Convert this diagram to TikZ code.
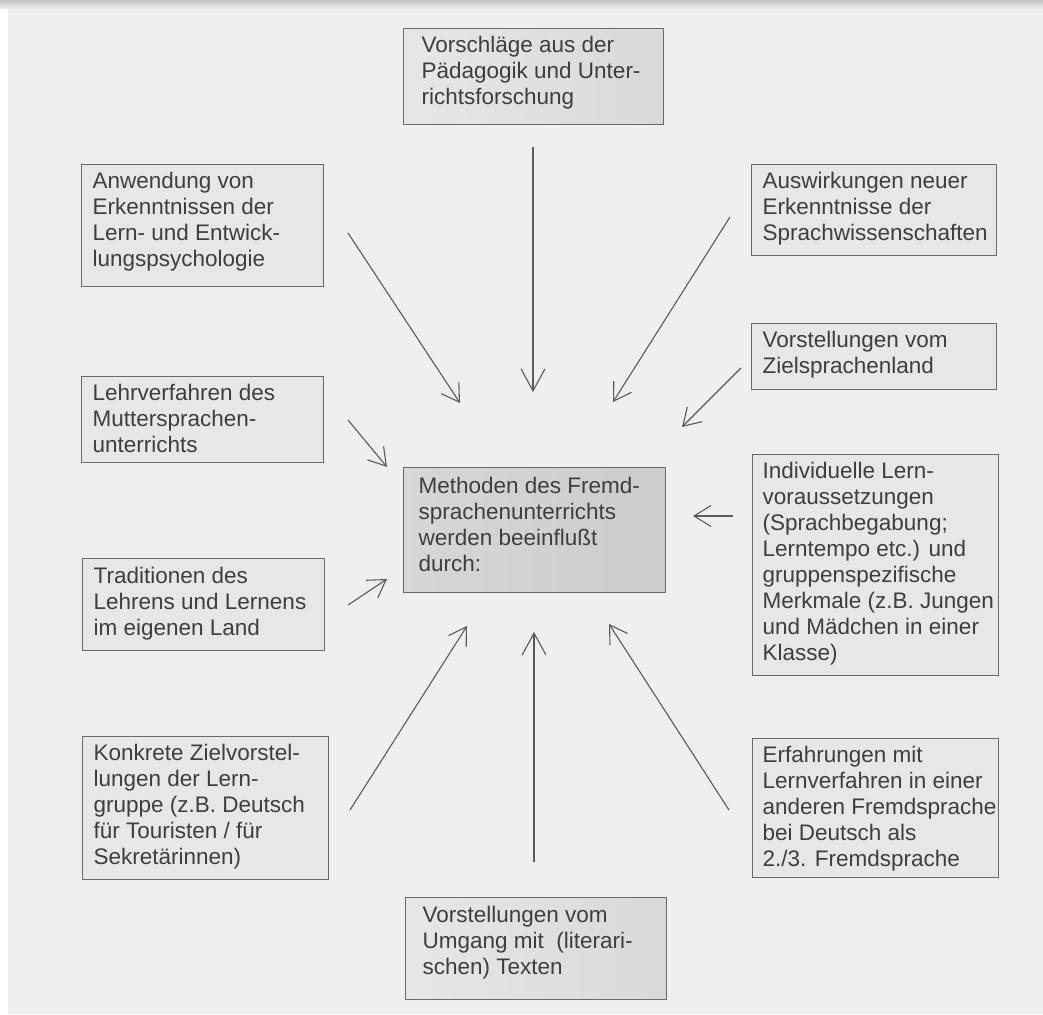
\documentclass[tikz,border=0pt]{standalone}
\usepackage{fontspec}
\setmainfont{Liberation Sans}
\usetikzlibrary{arrows.meta}
\definecolor{bgc}{HTML}{EFEFEF}
\definecolor{boxfill}{HTML}{E7E7E7}
\definecolor{boxline}{HTML}{6A6A6A}
\definecolor{txtc}{HTML}{3E3E3E}
\definecolor{arrc}{HTML}{5A5A5A}
\newcommand{\bxt}[5]{% width, height, inset, top pad, lines
  \parbox[c][#2][t]{#1}{\vspace*{#4}\hspace*{#3}\begin{tabular}[t]{@{}l@{}}#5\end{tabular}}}
\tikzset{
  bx/.style={draw=boxline, fill=boxfill, line width=1.3pt, inner sep=0pt, anchor=north west,
    text=txtc, font=\fontsize{22.5}{26}\selectfont},
  darkbx/.style={bx, left color=boxfill!80!gray!90, right color=gray!40, draw=boxline},
  midbx/.style={bx, left color=boxfill, right color=gray!30},
  arr/.style={draw=arrc, line width=1.1pt, -{Straight Barb[length=17pt,width=21pt,line width=1.1pt]}},
  bigarr/.style={arr, -{Straight Barb[length=22pt,width=24pt,line width=1.1pt]}}
}
\begin{document}
\begin{tikzpicture}[x=1pt,y=-1pt]
\useasboundingbox (0,0) rectangle (1043,1014);
\fill[bgc] (0,0) rectangle (1043,1014);
\shade[top color=gray!45, bottom color=bgc] (0,0) rectangle (1043,9);
\fill[white] (0,9) rectangle (8,1014);

% boxes
\node[midbx] (top) at (403,28) {\bxt{260pt}{96pt}{18pt}{6pt}{Vorschläge aus der\\Pädagogik und Unter-\\richtsforschung}};
\node[bx] (anw) at (81,164) {\bxt{242pt}{122pt}{11pt}{6pt}{Anwendung von\\Erkenntnissen der\\Lern- und Entwick-\\lungspsychologie}};
\node[bx] (lehr) at (81,376) {\bxt{242pt}{86pt}{11pt}{6pt}{Lehrverfahren des\\Muttersprachen-\\unterrichts}};
\node[bx] (aus) at (751,164) {\bxt{245pt}{91pt}{11pt}{6pt}{Auswirkungen neuer\\Erkenntnisse der\\Sprachwissenschaften}};
\node[bx] (ziel) at (751,323) {\bxt{245pt}{66pt}{11pt}{6pt}{Vorstellungen vom\\Zielsprachenland}};
\node[bx] (ind) at (752,454) {\bxt{246pt}{221pt}{10pt}{6pt}{Individuelle Lern-\\voraussetzungen\\(Sprachbegabung;\\Lerntempo etc.) und\\gruppenspezifische\\Merkmale (z.B. Jungen\\und Mädchen in einer\\Klasse)}};
\node[darkbx] (ctr) at (403,467) {\bxt{262pt}{125pt}{15pt}{8pt}{Methoden des Fremd-\\sprachenunterrichts\\werden beeinflußt\\durch:}};
\node[bx] (trad) at (82,558) {\bxt{242pt}{92pt}{11pt}{7pt}{Traditionen des\\Lehrens und Lernens\\im eigenen Land}};
\node[bx] (konk) at (82,736) {\bxt{246pt}{143pt}{11pt}{6pt}{Konkrete Zielvorstel-\\lungen der Lern-\\gruppe (z.B. Deutsch\\für Touristen / für\\Sekretärinnen)}};
\node[bx] (erf) at (752,738) {\bxt{246pt}{139pt}{10pt}{6pt}{Erfahrungen mit\\Lernverfahren in einer\\anderen Fremdsprache\\bei Deutsch als\\2./3. Fremdsprache}};
\node[midbx] (bot) at (405,897) {\bxt{261pt}{102pt}{17pt}{7pt}{Vorstellungen vom\\Umgang mit~ (literari-\\schen) Texten}};

% arrow end points
\coordinate (topS) at (533,147);  \coordinate (topE) at (533,392);
\coordinate (anwS) at (348,233);  \coordinate (anwE) at (460,403);
\coordinate (ausS) at (730,217);  \coordinate (ausE) at (613,402);
\coordinate (zielS) at (741,368); \coordinate (zielE) at (682,427);
\coordinate (lehrS) at (348,420); \coordinate (lehrE) at (387,467);
\coordinate (indS) at (733,516);  \coordinate (indE) at (693,516);
\coordinate (tradS) at (348,605); \coordinate (tradE) at (387,579);
\coordinate (konkS) at (350,810); \coordinate (konkE) at (467,626);
\coordinate (botS) at (534,862);  \coordinate (botE) at (534,632);
\coordinate (erfS) at (729,810);  \coordinate (erfE) at (609,624);

\draw[bigarr] (topS) -- (topE);
\draw[arr] (anwS) -- (anwE);
\draw[arr] (ausS) -- (ausE);
\draw[arr] (zielS) -- (zielE);
\draw[arr] (lehrS) -- (lehrE);
\draw[arr] (indS) -- (indE);
\draw[arr] (tradS) -- (tradE);
\draw[arr] (konkS) -- (konkE);
\draw[bigarr] (botS) -- (botE);
\draw[arr] (erfS) -- (erfE);
\end{tikzpicture}
\end{document}
